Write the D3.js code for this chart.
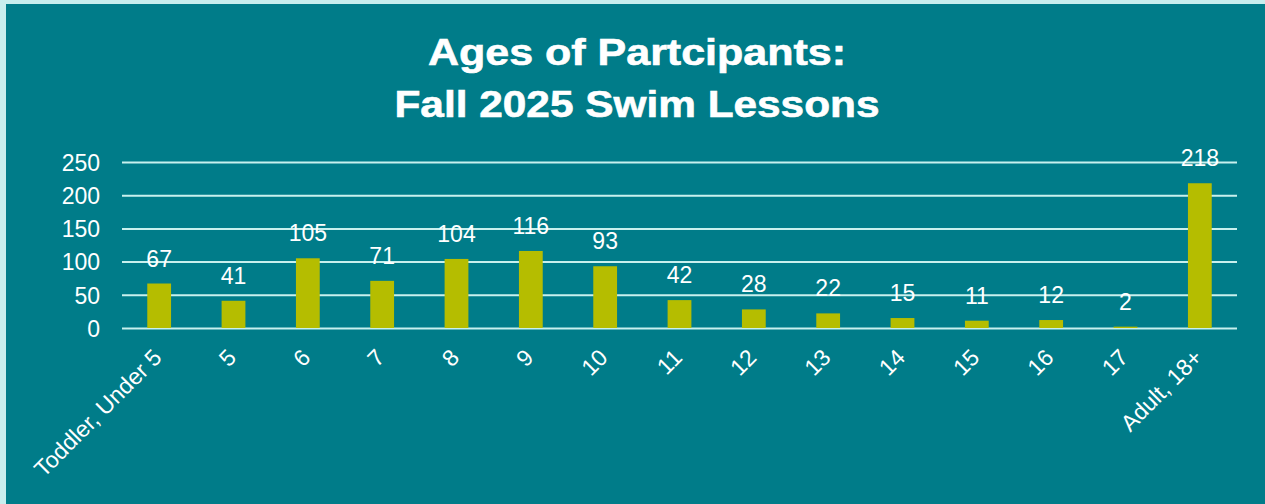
<!doctype html>
<html lang="en">
<head>
<meta charset="utf-8">
<title>Ages of Participants</title>
<style>
    body { margin: 0; background: #c8eeee; }
    svg { display: block; font-family: "Liberation Sans", Arial, sans-serif; }
    .grid line { stroke: #c8f0ee; stroke-width: 2px; }
    .grid path { display: none; }
    .axis text { fill: #fff; font-size: 23px; }
    .axis path, .axis line { display: none; }
    .bar { fill: #b5bd00; }
    .val { fill: #fff; font-size: 23px; text-anchor: middle; }
    .title { fill: #fff; font-size: 36px; font-weight: bold; text-anchor: middle; stroke: #fff; stroke-width: 0.6px; }
</style>
</head>
<body>
<svg id="chart" width="1265" height="504"></svg>

<script src="https://cdn.jsdelivr.net/npm/d3@7"></script>
<script>
const categories = ["Toddler, Under 5", "5", "6", "7", "8", "9", "10", "11", "12", "13", "14", "15", "16", "17", "Adult, 18+"];
const counts = [67, 41, 105, 71, 104, 116, 93, 42, 28, 22, 15, 11, 12, 2, 218];
const yTicks = [0, 50, 100, 150, 200, 250];
const titleLines = ["Ages of Partcipants:", "Fall 2025 Swim Lessons"];

let svg = d3.select("#chart");

// teal panel
svg.append("rect")
    .attr("x", 6).attr("y", 4)
    .attr("width", 1265 - 6).attr("height", 504 - 4)
    .attr("fill", "#007c89");

let plotLeft = 122, plotRight = 1237, plotTop = 162, plotBottom = 328;

let x = d3.scaleBand()
    .domain(categories)
    .range([plotLeft, plotRight])
    .paddingInner(0.68)
    .paddingOuter(0.34);

let y = d3.scaleLinear()
    .domain([0, 250])
    .range([plotBottom, plotTop]);

// gridlines
svg.append("g")
    .attr("class", "grid")
    .attr("transform", "translate(" + plotLeft + ",0)")
    .call(d3.axisLeft(y).tickValues(yTicks).tickSize(-(plotRight - plotLeft)).tickFormat(""));

// y axis labels
svg.append("g")
    .attr("class", "axis")
    .attr("transform", "translate(" + (plotLeft - 22) + ",0)")
    .call(d3.axisLeft(y).tickValues(yTicks).tickSize(0).tickPadding(0))
    .selectAll("text")
    .attr("dy", "0.36em");

// bars
svg.selectAll(".bar")
    .data(counts)
    .enter().append("rect")
    .attr("class", "bar")
    .attr("x", (d, i) => x(categories[i]))
    .attr("width", x.bandwidth())
    .attr("y", d => y(d))
    .attr("height", d => y(0) - y(d));

// value labels
svg.selectAll(".val")
    .data(counts)
    .enter().append("text")
    .attr("class", "val")
    .attr("x", (d, i) => x(categories[i]) + x.bandwidth() / 2)
    .attr("y", d => y(d) - 17)
    .text(d => d);

// x axis labels, rotated
svg.append("g")
    .attr("class", "axis")
    .attr("transform", "translate(0," + plotBottom + ")")
    .call(d3.axisBottom(x).tickSize(0).tickPadding(0))
    .selectAll("text")
    .attr("text-anchor", "end")
    .attr("dy", 0)
    .attr("transform", "translate(4,31) rotate(-45)");

// title (the original is set in a wide bold face)
const titleWidths = [418, 485];
svg.selectAll(".title")
    .data(titleLines)
    .enter().append("text")
    .attr("class", "title")
    .attr("x", 637)
    .attr("y", (d, i) => 65 + i * 52)
    .attr("textLength", (d, i) => titleWidths[i])
    .attr("lengthAdjust", "spacingAndGlyphs")
    .text(d => d);
</script>
</body>
</html>
